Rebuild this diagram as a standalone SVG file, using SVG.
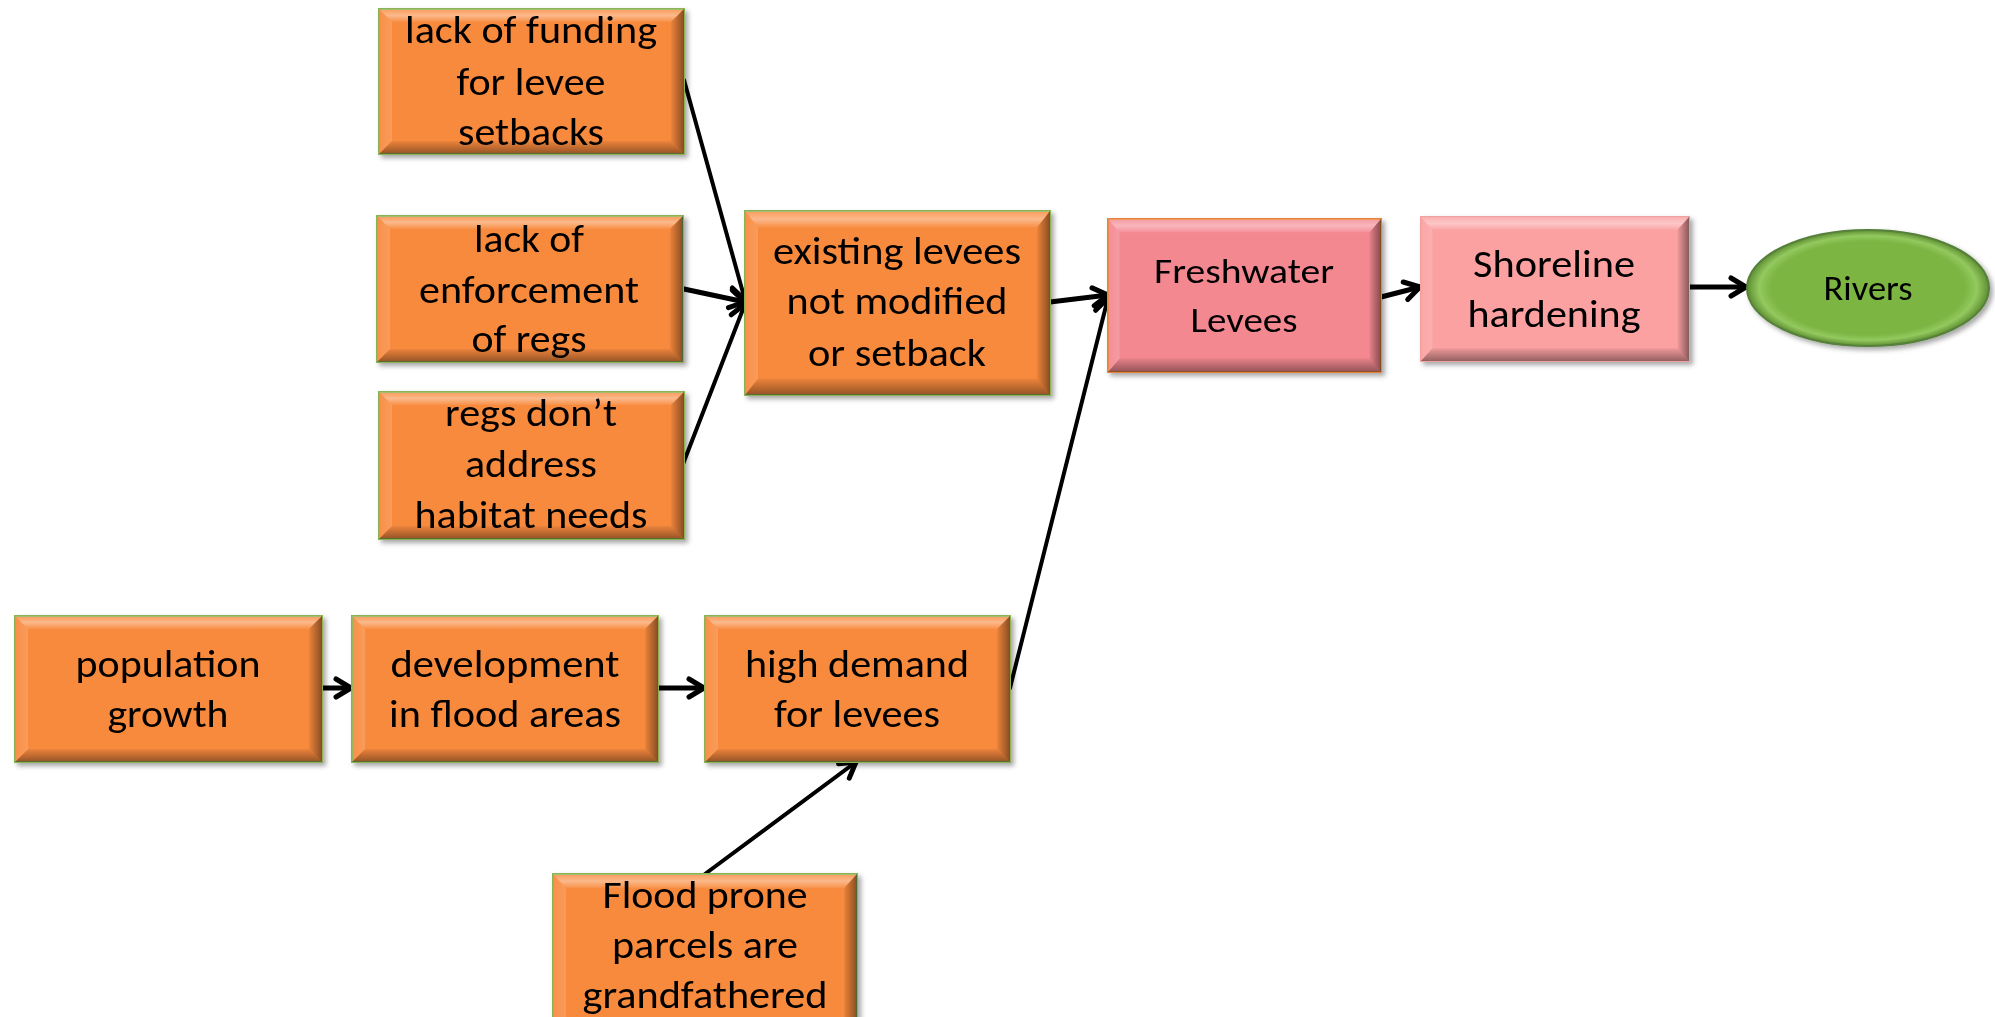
<svg xmlns="http://www.w3.org/2000/svg" xmlns:xlink="http://www.w3.org/1999/xlink" width="1995" height="1017" viewBox="0 0 1995 1017">
<style>
.t{font-family:Carlito,"Liberation Sans",Arial,sans-serif;font-size:39px;fill:#000;text-anchor:middle}
.ts{font-size:34px}
.org{fill:#F88A3E;stroke:#8DB255;stroke-width:2}
.fresh{fill:#F48891;stroke:#E8843E;stroke-width:2}
.shore{fill:#FBA1A2;stroke:#F2A0A0;stroke-width:2}
.c{stroke:#000;fill:none;stroke-linecap:round}
.w4{stroke-width:4}
.w5{stroke-width:5}
</style>
<defs>
<marker id="ah" viewBox="0 0 24 24" refX="21" refY="12" markerWidth="24" markerHeight="24" markerUnits="userSpaceOnUse" orient="auto">
<path d="M6,3 L21,12 L6,21" fill="none" stroke="#000" stroke-width="5" stroke-linecap="round" stroke-linejoin="round"/>
</marker>
<filter id="sh" x="-10%" y="-10%" width="130%" height="130%">
<feDropShadow dx="3" dy="3" stdDeviation="2.5" flood-color="#000" flood-opacity="0.35"/>
</filter>
<linearGradient id="gTop" x1="0" y1="0" x2="0" y2="1">
<stop offset="0" stop-color="#fff" stop-opacity="0.15"/>
<stop offset="0.5" stop-color="#fff" stop-opacity="0.4"/>
<stop offset="1" stop-color="#fff" stop-opacity="0.05"/>
</linearGradient>
<linearGradient id="gBot" x1="0" y1="0" x2="0" y2="1">
<stop offset="0" stop-color="#000" stop-opacity="0.05"/>
<stop offset="1" stop-color="#000" stop-opacity="0.4"/>
</linearGradient>
<linearGradient id="gRight" x1="0" y1="0" x2="1" y2="0">
<stop offset="0" stop-color="#000" stop-opacity="0.05"/>
<stop offset="1" stop-color="#000" stop-opacity="0.45"/>
</linearGradient>
<linearGradient id="gLeft" x1="0" y1="0" x2="1" y2="0">
<stop offset="0" stop-color="#fff" stop-opacity="0.05"/>
<stop offset="1" stop-color="#fff" stop-opacity="0.15"/>
</linearGradient>
<symbol id="bevel" viewBox="0 0 305 146" preserveAspectRatio="none">
<polygon points="0,0 305,0 292,13 13,13" fill="url(#gTop)"/>
<polygon points="0,146 305,146 292,133 13,133" fill="url(#gBot)"/>
<polygon points="0,0 13,13 13,133 0,146" fill="url(#gLeft)"/>
<polygon points="305,0 292,13 292,133 305,146" fill="url(#gRight)"/>
</symbol>
<radialGradient id="gRiv" cx="0.5" cy="0.5" r="0.5">
<stop offset="0" stop-color="#7CB543"/>
<stop offset="0.8" stop-color="#7CB543"/>
<stop offset="0.9" stop-color="#93C95E"/>
<stop offset="1" stop-color="#5E8E33"/>
</radialGradient>
</defs>

<g id="connectors">
<line class="c w4" x1="684" y1="80" x2="745" y2="300" marker-end="url(#ah)"/>
<line class="c w5" x1="684" y1="289" x2="745" y2="302" marker-end="url(#ah)"/>
<line class="c w4" x1="683" y1="464" x2="745" y2="304" marker-end="url(#ah)"/>
<line class="c w5" x1="1050" y1="302" x2="1108" y2="295" marker-end="url(#ah)"/>
<line class="c w4" x1="1010" y1="688" x2="1108" y2="298" marker-end="url(#ah)"/>
<line class="c w5" x1="1381" y1="297" x2="1420" y2="287" marker-end="url(#ah)"/>
<line class="c w5" x1="1689" y1="287" x2="1746" y2="287" marker-end="url(#ah)"/>
<line class="c w5" x1="322" y1="688" x2="351" y2="688" marker-end="url(#ah)"/>
<line class="c w5" x1="658" y1="688" x2="704" y2="688" marker-end="url(#ah)"/>
<line class="c w4" x1="705" y1="874" x2="856" y2="762" marker-end="url(#ah)"/>
</g>

<g id="n-funding" filter="url(#sh)">
<rect class="org" x="379" y="9" width="305" height="145"/>
<use xlink:href="#bevel" x="379" y="9" width="305" height="145"/>
<text class="t" x="531" y="43" textLength="252" lengthAdjust="spacingAndGlyphs">lack of funding</text>
<text class="t" x="531" y="95" textLength="149" lengthAdjust="spacingAndGlyphs">for levee</text>
<text class="t" x="531" y="145" textLength="146" lengthAdjust="spacingAndGlyphs">setbacks</text>
</g>

<g id="n-enforcement" filter="url(#sh)">
<rect class="org" x="377" y="216" width="306" height="146"/>
<use xlink:href="#bevel" x="377" y="216" width="306" height="146"/>
<text class="t" x="529" y="252" textLength="110" lengthAdjust="spacingAndGlyphs">lack of</text>
<text class="t" x="529" y="303" textLength="220" lengthAdjust="spacingAndGlyphs">enforcement</text>
<text class="t" x="529" y="352" textLength="115" lengthAdjust="spacingAndGlyphs">of regs</text>
</g>

<g id="n-regs" filter="url(#sh)">
<rect class="org" x="379" y="392" width="305" height="147"/>
<use xlink:href="#bevel" x="379" y="392" width="305" height="147"/>
<text class="t" x="531" y="426" textLength="172" lengthAdjust="spacingAndGlyphs">regs don’t</text>
<text class="t" x="531" y="477" textLength="132" lengthAdjust="spacingAndGlyphs">address</text>
<text class="t" x="531" y="528" textLength="233" lengthAdjust="spacingAndGlyphs">habitat needs</text>
</g>

<g id="n-existing" filter="url(#sh)">
<rect class="org" x="745" y="211" width="305" height="184"/>
<use xlink:href="#bevel" x="745" y="211" width="305" height="184"/>
<text class="t" x="897" y="264" textLength="248" lengthAdjust="spacingAndGlyphs">existing levees</text>
<text class="t" x="897" y="314" textLength="221" lengthAdjust="spacingAndGlyphs">not modified</text>
<text class="t" x="897" y="366" textLength="178" lengthAdjust="spacingAndGlyphs">or setback</text>
</g>

<g id="n-freshwater" filter="url(#sh)">
<rect class="fresh" x="1108" y="219" width="273" height="153"/>
<use xlink:href="#bevel" x="1108" y="219" width="273" height="153"/>
<text class="t ts" x="1244" y="283" textLength="180" lengthAdjust="spacingAndGlyphs">Freshwater</text>
<text class="t ts" x="1244" y="332" textLength="107" lengthAdjust="spacingAndGlyphs">Levees</text>
</g>

<g id="n-shoreline" filter="url(#sh)">
<rect class="shore" x="1421" y="217" width="268" height="144"/>
<use xlink:href="#bevel" x="1421" y="217" width="268" height="144"/>
<text class="t" x="1554" y="277" textLength="162" lengthAdjust="spacingAndGlyphs">Shoreline</text>
<text class="t" x="1554" y="327" textLength="173" lengthAdjust="spacingAndGlyphs">hardening</text>
</g>

<g id="n-rivers" filter="url(#sh)">
<ellipse cx="1868" cy="288" rx="121" ry="58" fill="url(#gRiv)" stroke="#56803A" stroke-width="2"/>
<text class="t ts" x="1868" y="300" textLength="89" lengthAdjust="spacingAndGlyphs">Rivers</text>
</g>

<g id="n-population" filter="url(#sh)">
<rect class="org" x="15" y="616" width="307" height="146"/>
<use xlink:href="#bevel" x="15" y="616" width="307" height="146"/>
<text class="t" x="168" y="677" textLength="185" lengthAdjust="spacingAndGlyphs">population</text>
<text class="t" x="168" y="727" textLength="121" lengthAdjust="spacingAndGlyphs">growth</text>
</g>

<g id="n-development" filter="url(#sh)">
<rect class="org" x="352" y="616" width="306" height="146"/>
<use xlink:href="#bevel" x="352" y="616" width="306" height="146"/>
<text class="t" x="505" y="677" textLength="229" lengthAdjust="spacingAndGlyphs">development</text>
<text class="t" x="505" y="727" textLength="232" lengthAdjust="spacingAndGlyphs">in flood areas</text>
</g>

<g id="n-demand" filter="url(#sh)">
<rect class="org" x="705" y="616" width="305" height="146"/>
<use xlink:href="#bevel" x="705" y="616" width="305" height="146"/>
<text class="t" x="857" y="677" textLength="224" lengthAdjust="spacingAndGlyphs">high demand</text>
<text class="t" x="857" y="727" textLength="166" lengthAdjust="spacingAndGlyphs">for levees</text>
</g>

<g id="n-floodprone" filter="url(#sh)">
<rect class="org" x="553" y="874" width="304" height="160"/>
<use xlink:href="#bevel" x="553" y="874" width="304" height="160"/>
<text class="t" x="705" y="908" textLength="205" lengthAdjust="spacingAndGlyphs">Flood prone</text>
<text class="t" x="705" y="958" textLength="186" lengthAdjust="spacingAndGlyphs">parcels are</text>
<text class="t" x="705" y="1008" textLength="245" lengthAdjust="spacingAndGlyphs">grandfathered</text>
</g>
</svg>
